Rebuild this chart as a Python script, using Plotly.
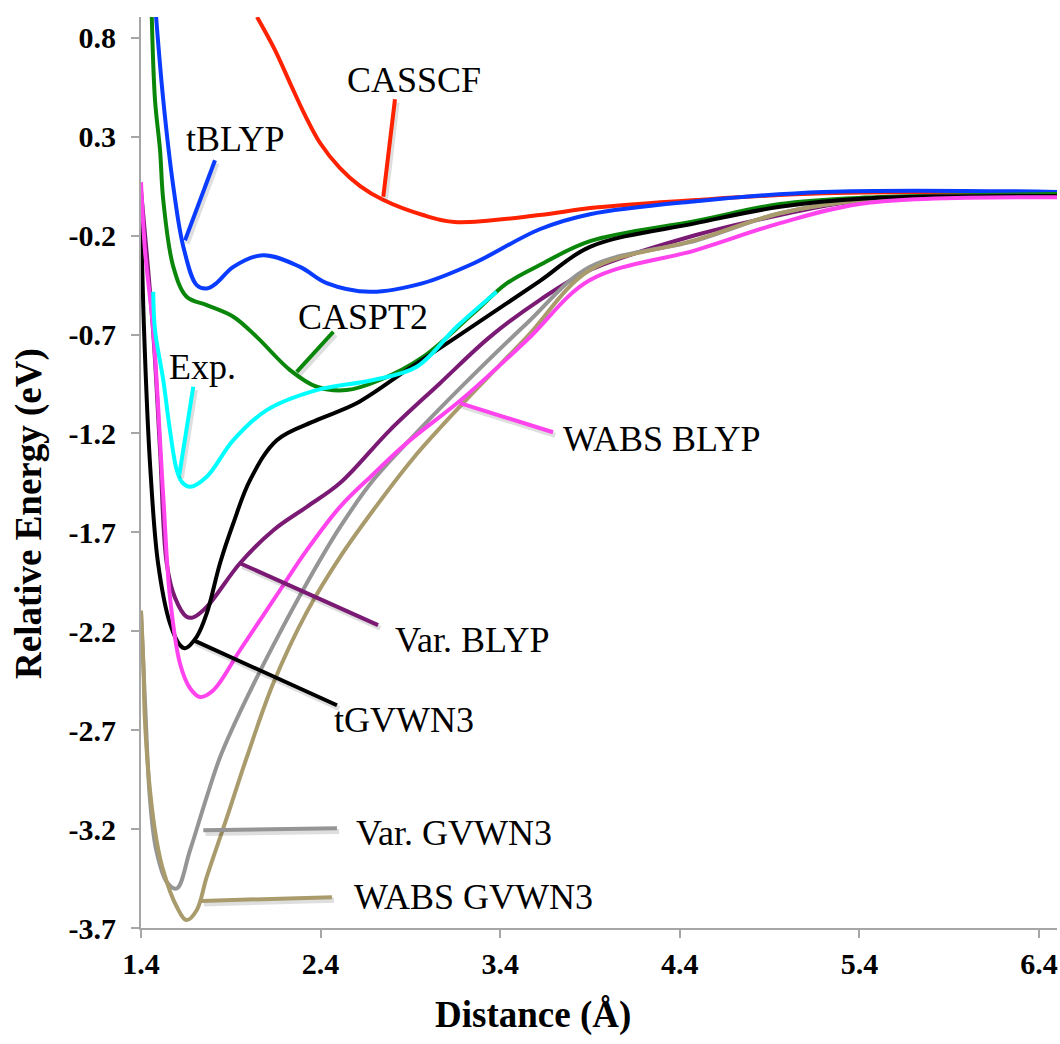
import plotly.graph_objects as go

# Potential energy curves: distance (Å) vs relative energy (eV)
casscf_x = [2.046, 2.146, 2.23, 2.313, 2.397, 2.508, 2.62, 2.747, 2.97, 3.146, 3.62, 3.9, 4.49, 5.2, 6.5]
casscf_y = [0.905, 0.738, 0.571, 0.409, 0.268, 0.141, 0.05, -0.019, -0.096, -0.131, -0.096, -0.061, -0.02, 0.014, 0.019]

tblyp_x = [1.484, 1.524, 1.58, 1.636, 1.71, 1.766, 1.82, 1.914, 2.08, 2.285, 2.434, 2.675, 2.97, 3.25, 3.62, 3.9, 4.49, 5.2, 6.5]
tblyp_y = [0.906, 0.485, 0.047, -0.257, -0.45, -0.467, -0.44, -0.358, -0.299, -0.358, -0.44, -0.484, -0.44, -0.341, -0.168, -0.092, -0.026, 0.021, 0.021]

caspt2_x = [1.46, 1.478, 1.506, 1.524, 1.58, 1.654, 1.766, 1.914, 2.044, 2.23, 2.378, 2.545, 2.73, 2.97, 3.25, 3.436, 3.62, 3.9, 4.49, 4.958, 5.43, 6.5]
caspt2_y = [0.906, 0.485, 0.232, -0.021, -0.358, -0.509, -0.551, -0.61, -0.712, -0.88, -0.964, -0.981, -0.93, -0.813, -0.593, -0.442, -0.349, -0.228, -0.126, -0.04, -0.008, 0.01]

exp_x = [1.468, 1.478, 1.524, 1.561, 1.599, 1.628, 1.673, 1.766, 1.914, 2.1, 2.378, 2.693, 2.935, 3.158, 3.38]
exp_y = [-0.484, -0.678, -0.93, -1.183, -1.385, -1.446, -1.47, -1.419, -1.234, -1.082, -0.981, -0.93, -0.863, -0.661, -0.484]

tgvwn3_x = [1.4, 1.417, 1.45, 1.495, 1.561, 1.617, 1.645, 1.71, 1.766, 1.84, 1.914, 2.007, 2.156, 2.378, 2.6, 2.879, 3.158, 3.62, 3.9, 4.49, 4.958, 5.43, 6.5]
tgvwn3_y = [-0.097, -0.678, -1.35, -1.856, -2.159, -2.27, -2.286, -2.228, -2.11, -1.856, -1.654, -1.436, -1.234, -1.133, -1.048, -0.88, -0.712, -0.43, -0.257, -0.137, -0.054, -0.012, 0.0]

wabs_blyp_x = [1.4, 1.422, 1.468, 1.524, 1.561, 1.617, 1.673, 1.728, 1.803, 1.951, 2.137, 2.323, 2.508, 2.693, 2.879, 3.193, 3.549, 3.9, 4.49, 4.958, 5.43, 6.5]
wabs_blyp_y = [0.07, -0.273, -0.678, -1.52, -2.026, -2.363, -2.488, -2.532, -2.498, -2.296, -2.043, -1.79, -1.571, -1.406, -1.249, -1.022, -0.728, -0.425, -0.273, -0.137, -0.036, -0.006]

var_blyp_x = [1.4, 1.467, 1.506, 1.543, 1.589, 1.654, 1.691, 1.766, 1.951, 2.137, 2.323, 2.508, 2.786, 3.065, 3.343, 3.62, 3.9, 4.49, 4.958, 5.43, 6.5]
var_blyp_y = [0.03, -0.678, -1.285, -1.856, -2.03, -2.127, -2.13, -2.077, -1.856, -1.689, -1.571, -1.451, -1.183, -0.946, -0.712, -0.526, -0.374, -0.197, -0.096, -0.02, 0.0]

var_gvwn3_x = [1.4, 1.422, 1.45, 1.484, 1.543, 1.599, 1.673, 1.766, 1.84, 1.951, 2.137, 2.323, 2.508, 2.693, 2.879, 3.193, 3.549, 3.9, 4.49, 4.958, 5.43, 6.5]
var_gvwn3_y = [-2.105, -2.55, -3.05, -3.303, -3.467, -3.5, -3.307, -3.037, -2.837, -2.609, -2.27, -1.957, -1.674, -1.436, -1.249, -0.956, -0.643, -0.358, -0.225, -0.087, -0.02, 0.0]

wabs_gvwn3_x = [1.4, 1.413, 1.422, 1.45, 1.487, 1.524, 1.599, 1.654, 1.71, 1.766, 1.877, 1.989, 2.137, 2.323, 2.508, 2.693, 2.916, 3.193, 3.549, 3.9, 4.49, 4.958, 5.43, 6.5]
wabs_gvwn3_y = [-2.095, -2.361, -2.65, -3.004, -3.259, -3.41, -3.593, -3.66, -3.61, -3.442, -3.145, -2.837, -2.462, -2.103, -1.825, -1.588, -1.325, -1.047, -0.712, -0.374, -0.222, -0.087, -0.02, 0.0]

x_ticks = [1.4, 2.4, 3.4, 4.4, 5.4, 6.4]
y_ticks = [-3.7, -3.2, -2.7, -2.2, -1.7, -1.2, -0.7, -0.2, 0.3, 0.8]

# series: (name, x, y, colour, label centre, leader start, leader end)
series = [
    ("CASSCF", casscf_x, casscf_y, "#ff2200", (2.92, 0.586), (2.749, -0.004), (2.814, 0.489)),
    ("tBLYP", tblyp_x, tblyp_y, "#0a3cff", (1.923, 0.288), (1.645, -0.224), (1.812, 0.181)),
    ("CASPT2", caspt2_x, caspt2_y, "#0a870a", (2.636, -0.612), (2.267, -0.889), (2.471, -0.686)),
    ("Var. BLYP", var_blyp_x, var_blyp_y, "#7a1a74", (3.243, -2.246), (1.951, -1.856), (2.72, -2.169)),
    ("Var. GVWN3", var_gvwn3_x, var_gvwn3_y, "#959595", (3.143, -3.222), (1.747, -3.206), (2.491, -3.196)),
    ("WABS GVWN3", wabs_gvwn3_x, wabs_gvwn3_y, "#a99b6b", (3.254, -3.545), (1.738, -3.563), (2.463, -3.544)),
    ("tGVWN3", tgvwn3_x, tgvwn3_y, "#000000", (2.864, -2.651), (1.691, -2.245), (2.491, -2.574)),
    ("WABS BLYP", wabs_blyp_x, wabs_blyp_y, "#ff44ee", (4.296, -1.23), (3.176, -1.047), (3.694, -1.194)),
    ("Exp.", exp_x, exp_y, "#00ffff", (1.74, -0.865), (1.691, -0.964), (1.613, -1.411)),
]

serif = "Liberation Serif, Times New Roman, serif"
fig = go.Figure()
shapes = []
annotations = []

for name, xs, ys, color, lab, p0, p1 in series:
    fig.add_trace(go.Scatter(
        x=xs, y=ys, mode="lines", name=name,
        line=dict(color=color, width=4, shape="spline", smoothing=1.0),
        showlegend=False,
    ))
    # soft drop shadow under each leader line
    shapes.append(dict(type="line", xref="x", yref="y",
                       x0=p0[0] + 0.012, y0=p0[1] - 0.016, x1=p1[0] + 0.012, y1=p1[1] - 0.016,
                       line=dict(color="rgba(0,0,0,0.13)", width=5), layer="above"))
    shapes.append(dict(type="line", xref="x", yref="y",
                       x0=p0[0], y0=p0[1], x1=p1[0], y1=p1[1],
                       line=dict(color=color, width=4), layer="above"))
    annotations.append(dict(x=lab[0], y=lab[1], xref="x", yref="y", text=name,
                            showarrow=False, xanchor="center", yanchor="middle",
                            font=dict(family=serif, size=36, color="black")))

# axis titles
annotations.append(dict(x=0.428, y=-0.096, xref="paper", yref="paper",
                        xanchor="center", yanchor="middle",
                        text="<b>Distance (Å)</b>", showarrow=False,
                        font=dict(family=serif, size=37, color="black")))
annotations.append(dict(x=-0.1223, y=0.4555, xref="paper", yref="paper",
                        xanchor="center", yanchor="middle",
                        text="<b>Relative Energy (eV)</b>", showarrow=False, textangle=-90,
                        font=dict(family=serif, size=37, color="black")))

axis_common = dict(
    showline=True, linecolor="#a6a6a6", linewidth=2,
    ticks="outside", tickcolor="#a6a6a6", ticklen=8, tickwidth=2,
    showgrid=False, zeroline=False,
    tickfont=dict(family=serif, size=30, color="black", weight="bold"),
)

fig.update_layout(
    width=1060, height=1044,
    margin=dict(l=141, r=3, t=17, b=116),
    paper_bgcolor="white", plot_bgcolor="white",
    xaxis=dict(range=[1.4, 6.5], tickvals=x_ticks, ticktext=[f"{v:.1f}" for v in x_ticks],
               ticklabelstandoff=0, **axis_common),
    yaxis=dict(range=[-3.7, 0.905], tickvals=y_ticks, ticktext=[f"{v:.1f}" for v in y_ticks],
               ticklabelstandoff=9, **axis_common),
    shapes=shapes,
    annotations=annotations,
)

fig.write_html("out.html")
